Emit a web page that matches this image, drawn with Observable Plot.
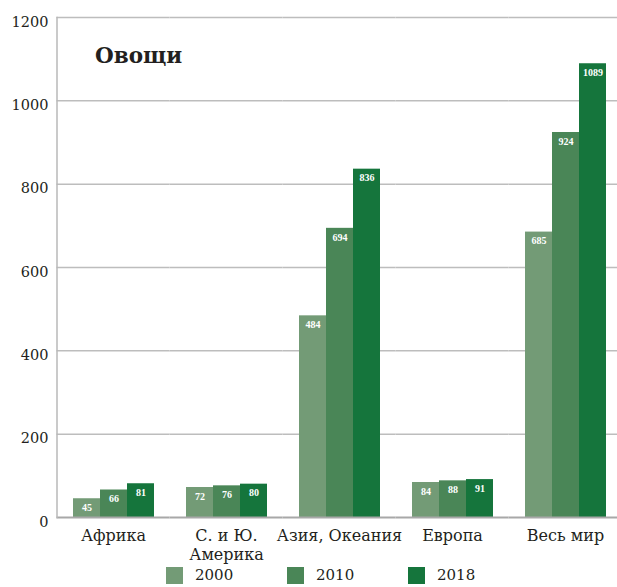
<!DOCTYPE html>
<html>
<head>
<meta charset="utf-8">
<script src="https://cdn.jsdelivr.net/npm/d3@7"></script>
<script src="https://cdn.jsdelivr.net/npm/@observablehq/plot@0.6"></script>
<style>
  body { margin: 0; background: #fff; }
  #chart { position: relative; width: 617px; height: 587px; overflow: hidden; }
  #chart svg { position: absolute; left: 0; top: 0; }
  .title { position: absolute; left: 95px; top: 44px; font: bold 21.5px/24px "DejaVu Serif", serif; color: #231f20; }
  .legend { position: absolute; left: 166px; top: 567px; display: flex; font: 15px/17px "DejaVu Serif", serif; color: #231f20; }
  .legend-item { display: flex; align-items: center; width: 121px; }
  .legend-item i { display: inline-block; width: 17px; height: 17px; margin-right: 12px; }
</style>
</head>
<body>
<div id="chart"></div>
<script>
// Vegetable production by region, 2000 / 2010 / 2018
const title = "Овощи";
const regions = ["Африка", "С. и Ю.\nАмерика", "Азия, Океания", "Европа", "Весь мир"];
const years = ["2000", "2010", "2018"];
const values2000 = [45, 72, 484, 84, 685];
const values2010 = [66, 76, 694, 88, 924];
const values2018 = [81, 80, 836, 91, 1089];
const yearColors = ["#739b76", "#4a8657", "#15753c"];
const yTicks = [0, 200, 400, 600, 800, 1000, 1200];

const series = [values2000, values2010, values2018];
const rows = regions.flatMap((region, i) =>
  years.map((year, j) => ({region, year, value: series[j][i]}))
);

// half of the gap between region groups, so grid lines run continuously
const halfGap = -15.5;

const chart = Plot.plot({
  width: 617,
  height: 566,
  marginLeft: 57,
  marginRight: -5,
  marginTop: 17,
  marginBottom: 49,
  style: {fontFamily: "DejaVu Serif", color: "#231f20", background: "transparent"},
  fx: {domain: regions, paddingInner: 0.274, paddingOuter: 0.137, label: null, axis: null},
  x: {domain: years, padding: 0, axis: null},
  y: {domain: [0, 1200], label: null, axis: null},
  color: {domain: years, range: yearColors},
  marks: [
    Plot.ruleY(yTicks.slice(1), {stroke: "#bdbdbd", strokeWidth: 1.5, insetLeft: halfGap, insetRight: halfGap}),
    Plot.barY(rows, {fx: "region", x: "year", y: "value", fill: "year"}),
    Plot.text(rows, {
      fx: "region", x: "year", y: "value", text: d => String(d.value),
      fill: "white", fontWeight: "bold", fontSize: 10, fontFamily: "Liberation Serif",
      lineAnchor: "middle", dy: 9
    }),
    Plot.ruleY([0], {stroke: "#a8a8a8", strokeWidth: 2, insetLeft: halfGap, insetRight: halfGap}),
    Plot.frame({anchor: "left", facetAnchor: "left", stroke: "#b8b8b8", strokeWidth: 1.5, dx: halfGap}),
    Plot.axisY({ticks: yTicks, tickFormat: d => String(d), tickSize: 0, tickPadding: 24, fontSize: 14.5, dy: 4.5, label: null}),
    Plot.axisFx({anchor: "bottom", tickSize: 0, tickPadding: 10.6, fontSize: 16, lineHeight: 1.15, label: null})
  ]
});

const root = document.getElementById("chart");
root.appendChild(chart);

const titleEl = document.createElement("div");
titleEl.className = "title";
titleEl.textContent = title;
root.appendChild(titleEl);

const legend = document.createElement("div");
legend.className = "legend";
years.forEach((year) => {
  const item = document.createElement("span");
  item.className = "legend-item";
  const sw = document.createElement("i");
  sw.style.background = chart.scale("color").apply(year);
  item.appendChild(sw);
  item.appendChild(document.createTextNode(year));
  legend.appendChild(item);
});
root.appendChild(legend);
</script>
</body>
</html>
